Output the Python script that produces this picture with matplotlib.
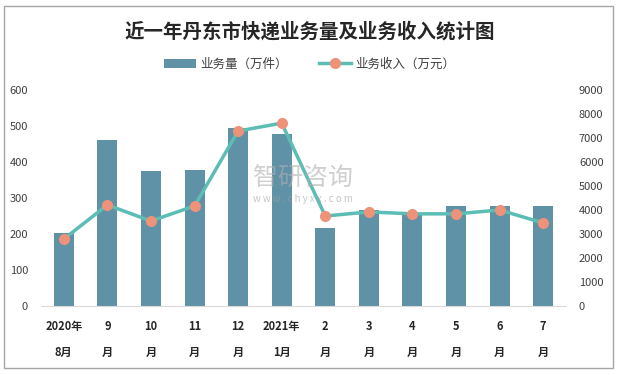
import matplotlib
matplotlib.use('agg')
from matplotlib import pyplot as plt
from matplotlib.patches import Rectangle
import numpy as np

plt.rcParams['font.family'] = ['Noto Sans CJK SC', 'DejaVu Sans']
plt.rcParams['axes.unicode_minus'] = False

# 数据
months = ['2020年\n8月', '9\n月', '10\n月', '11\n月', '12\n月', '2021年\n1月',
          '2\n月', '3\n月', '4\n月', '5\n月', '6\n月', '7\n月']
volume = [202, 460, 374, 377, 495, 477, 216, 268, 257, 277, 279, 279]          # 业务量（万件）
revenue = [2790, 4210, 3540, 4170, 7290, 7620, 3750, 3920, 3840, 3840, 4000, 3460]  # 业务收入（万元）

bar_color = '#5F91A7'
line_color = '#5BBDB4'
marker_color = '#EE927A'

fig = plt.figure(figsize=(6.19, 3.75), dpi=100)
fig.patches.append(Rectangle((4 / 619, 7 / 375), 609 / 619, 362 / 375, transform=fig.transFigure,
                             fill=False, edgecolor='#A6A6A6', linewidth=1.0))

ax = fig.add_axes([42 / 619, 69 / 375, 523 / 619, 216 / 375])
x = np.arange(len(months))
bars = ax.bar(x, volume, width=0.46, color=bar_color, label='业务量（万件）', zorder=2)
ax.set_xlim(-0.5, len(months) - 0.5)
ax.set_ylim(0, 600)
ax.set_yticks(range(0, 601, 100))
ax.set_xticks(x)
ax.set_xticklabels(months, fontsize=9.5, fontweight='bold', color='#262626', linespacing=2.3)
for s in ['top', 'right', 'left']:
    ax.spines[s].set_visible(False)
ax.spines['bottom'].set_color('#D9D9D9')
ax.tick_params(axis='both', length=0, labelsize=8, colors='#404040')
ax.tick_params(axis='x', pad=10, colors='#262626')
ax.tick_params(axis='y', pad=10)

ax2 = ax.twinx()
line, = ax2.plot(x, revenue, color=line_color, linewidth=2.5, marker='o', markersize=7,
                 markerfacecolor=marker_color, markeredgecolor=marker_color, label='业务收入（万元）', zorder=3)
ax2.set_ylim(0, 9000)
ax2.set_yticks(range(0, 9001, 1000))
for s in ['top', 'right', 'left', 'bottom']:
    ax2.spines[s].set_visible(False)
ax2.tick_params(axis='y', length=0, labelsize=8, colors='#404040', pad=10)

fig.text(0.5, 1 - 32 / 375, '近一年丹东市快递业务量及业务收入统计图', ha='center', va='center',
         fontsize=14, fontweight='bold', color='#262626')

fig.legend(handles=[bars, line], loc='center', bbox_to_anchor=(0.5, 1 - 64 / 375), ncol=2,
           frameon=False, fontsize=9, handlelength=2.6, columnspacing=2.5, handletextpad=0.3,
           labelcolor='#404040')

# 水印
fig.text(0.49, 1 - 178 / 375, '智研咨询', ha='center', va='center', fontsize=18,
         color='#B0B0B0', alpha=0.6, zorder=5)
fig.text(0.49, 1 - 199 / 375, 'w w w . c h y x x . c o m', ha='center', va='center', fontsize=7,
         color='#A0A0A0', alpha=0.6, zorder=5)

fig.savefig('out.png', dpi=100)
